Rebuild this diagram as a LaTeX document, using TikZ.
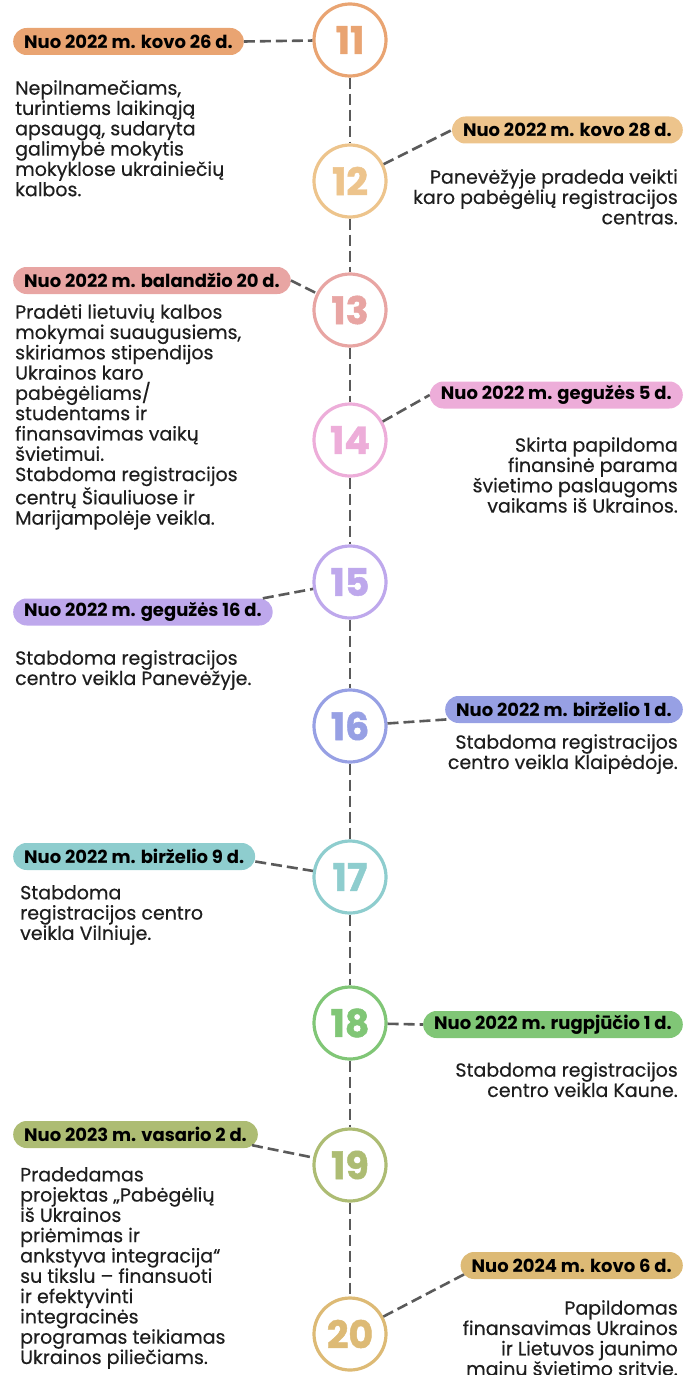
\documentclass[tikz,border=0pt]{standalone}
\usepackage{fontspec}
\setmainfont{Poppins}
\newfontfamily\numfont{Poppins}[BoldFeatures={FakeBold=1.2}]
\newfontfamily\bodyfont{Poppins}[FakeBold=0.4]
\definecolor{k11}{HTML}{E9A472}
\definecolor{k12}{HTML}{EDC48C}
\definecolor{k13}{HTML}{E8A5A3}
\definecolor{k14}{HTML}{EDADD9}
\definecolor{k15}{HTML}{BEA8EC}
\definecolor{k16}{HTML}{97A0E4}
\definecolor{k17}{HTML}{8ECDCE}
\definecolor{k18}{HTML}{80C676}
\definecolor{k19}{HTML}{ADBC73}
\definecolor{k20}{HTML}{DDBA75}
\definecolor{dgray}{HTML}{5A5A5A}
\definecolor{txt}{HTML}{1E1E1E}
\begin{document}
\begin{tikzpicture}[x=1pt,y=-1pt,
  circ/.style={circle, draw=#1, line width=3.2pt, fill=white, text=#1, minimum size=72pt, inner sep=0pt, font=\numfont\bfseries\fontsize{38}{38}\selectfont},
  pill/.style={fill=#1, rounded corners=13.4pt, minimum height=27pt, inner xsep=11pt, inner ysep=0pt, font=\bfseries\fontsize{18}{19}\selectfont, text=black},
  lpill/.style={pill=#1, anchor=west},
  rpill/.style={pill=#1, anchor=east},
  body/.style={font=\bodyfont\fontsize{19}{20.3}\selectfont, inner sep=0pt, text=txt},
  lbody/.style={body, align=left, anchor=north west},
  rbody/.style={body, align=right, anchor=north east},
  dline/.style={draw=dgray, line width=2.6pt, dash pattern=on 11pt off 5pt}]
\useasboundingbox (0,0) rectangle (684,1375);
% circles
\node[circ=k11] (c11) at (350,40) {11};
\node[circ=k12] (c12) at (350,181) {12};
\node[circ=k13] (c13) at (350,310) {13};
\node[circ=k14] (c14) at (350,440) {14};
\node[circ=k15] (c15) at (350,582) {15};
\node[circ=k16] (c16) at (350,726) {16};
\node[circ=k17] (c17) at (350,877) {17};
\node[circ=k18] (c18) at (350,1023) {18};
\node[circ=k19] (c19) at (350,1165) {19};
\node[circ=k20] (c20) at (350,1334) {20};
% timeline
\draw[dline] (c11) -- (c12);
\draw[dline] (c12) -- (c13);
\draw[dline] (c13) -- (c14);
\draw[dline] (c14) -- (c15);
\draw[dline] (c15) -- (c16);
\draw[dline] (c16) -- (c17);
\draw[dline] (c17) -- (c18);
\draw[dline] (c18) -- (c19);
\draw[dline] (c19) -- (c20);
% pills
\node[lpill=k11] (p11) at (13,41.5) {Nuo 2022 m. kovo 26 d.};
\node[rpill=k12] (p12) at (683,130) {Nuo 2022 m. kovo 28 d.};
\node[lpill=k13] (p13) at (13,280.5) {Nuo 2022 m. balandžio 20 d.};
\node[rpill=k14] (p14) at (683,395) {Nuo 2022 m. gegužės 5 d.};
\node[lpill=k15] (p15) at (13,612) {Nuo 2022 m. gegužės 16 d.};
\node[rpill=k16] (p16) at (683,709.5) {Nuo 2022 m. birželio 1 d.};
\node[lpill=k17] (p17) at (13,856.5) {Nuo 2022 m. birželio 9 d.};
\node[rpill=k18] (p18) at (683,1024.5) {Nuo 2022 m. rugpjūčio 1 d.};
\node[lpill=k19] (p19) at (13,1134.5) {Nuo 2023 m. vasario 2 d.};
\node[rpill=k20] (p20) at (683,1265.5) {Nuo 2024 m. kovo 6 d.};
% connectors
\draw[dline] (p11.east) -- (c11);
\draw[dline] (c12) -- (p12.west);
\draw[dline] (p13.east) -- (c13);
\draw[dline] (c14) -- (p14.west);
\draw[dline] ([xshift=-10pt]p15.north east) -- (c15);
\draw[dline] (c16) -- ([xshift=5pt,yshift=4pt]p16.south west);
\draw[dline] ([yshift=-5pt]p17.east) -- (c17);
\draw[dline] (c18) -- (p18.west);
\draw[dline] ([xshift=-6pt,yshift=3pt]p19.south east) -- (c19);
\draw[dline] (c20) -- ([xshift=4pt,yshift=5pt]p20.south west);
% texts
\node[lbody] (t11) at (15,80) {Nepilnamečiams,\\turintiems laikinąją\\apsaugą, sudaryta\\galimybė mokytis\\mokyklose ukrainiečių\\kalbos.};
\node[rbody] (t12) at (678,169) {Panevėžyje pradeda veikti\\karo pabėgėlių registracijos\\centras.};
\node[lbody] (t13) at (15,304) {Pradėti lietuvių kalbos\\mokymai suaugusiems,\\skiriamos stipendijos\\Ukrainos karo\\pabėgėliams/\\studentams ir\\finansavimas vaikų\\švietimui.\\Stabdoma registracijos\\centrų Šiauliuose ir\\Marijampolėje veikla.};
\node[rbody] (t14) at (678,437) {Skirta papildoma\\finansinė parama\\švietimo paslaugoms\\vaikams iš Ukrainos.};
\node[lbody] (t15) at (15,650) {Stabdoma registracijos\\centro veikla Panevėžyje.};
\node[rbody] (t16) at (678,734) {Stabdoma registracijos\\centro veikla Klaipėdoje.};
\node[lbody] (t17) at (20,885) {Stabdoma\\registracijos centro\\veikla Vilniuje.};
\node[rbody] (t18) at (678,1062) {Stabdoma registracijos\\centro veikla Kaune.};
\node[lbody] (t19) at (20,1167) {Pradedamas\\projektas „Pabėgėlių\\iš Ukrainos\\priėmimas ir\\ankstyva integracija“\\su tikslu – finansuoti\\ir efektyvinti\\integracinės\\programas teikiamas\\Ukrainos piliečiams.};
\node[rbody] (t20) at (678,1300) {Papildomas\\finansavimas Ukrainos\\ir Lietuvos jaunimo\\mainų švietimo srityje.};
\end{tikzpicture}
\end{document}
